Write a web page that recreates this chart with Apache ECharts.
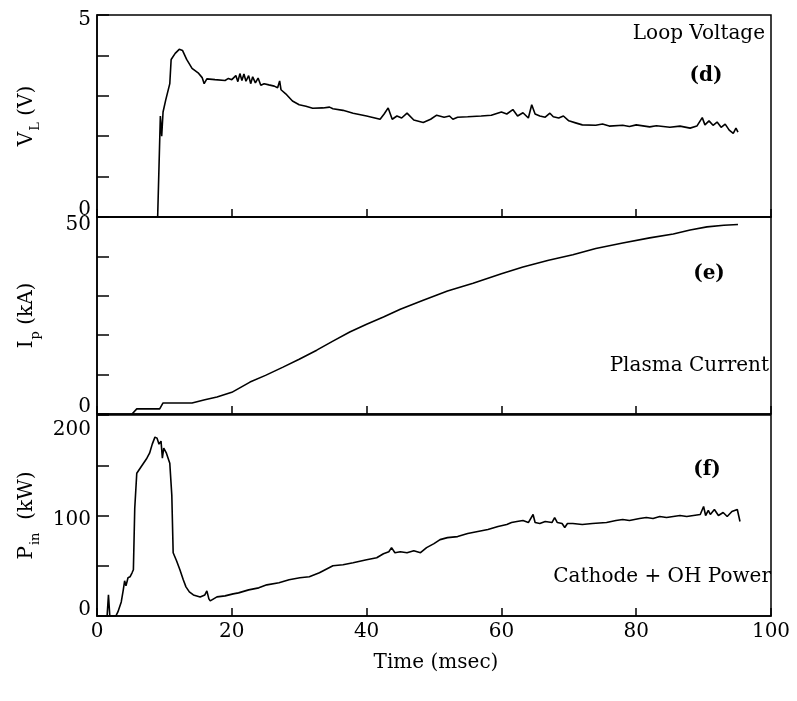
<!DOCTYPE html>
<html>
<head>
<meta charset="utf-8">
<script src="https://cdn.jsdelivr.net/npm/echarts@6/dist/echarts.min.js"></script>
<style>html,body{margin:0;padding:0;background:#fff}#c{width:797px;height:701px}</style>
</head>
<body>
<div id="c"></div>
<script>
// ---- Data ----
// Panel (d) Loop Voltage, V
const vlTime = [9.0,9.4,9.6,9.8,10.2,10.8,11.0,11.6,12.2,12.7,13.3,14.1,15.0,15.6,15.9,16.3,17.5,19.0,19.5,20.0,20.6,20.9,21.2,21.5,21.8,22.1,22.5,22.8,23.1,23.5,23.9,24.3,24.8,25.5,26.3,26.8,27.1,27.3,28.0,29.0,30.0,31.0,32.0,33.5,34.5,35.0,36.5,38.0,40.0,42.0,42.6,43.2,43.8,44.5,45.2,46.0,47.0,48.4,49.5,50.4,51.5,52.3,52.8,53.5,55.0,57.0,58.5,60.0,60.8,61.7,62.4,63.2,64.0,64.5,65.0,65.7,66.5,67.2,67.7,68.5,69.2,70.0,71.0,72.0,74.0,75.0,76.0,78.0,79.0,80.0,82.0,83.0,85.0,86.5,88.0,89.0,89.8,90.2,90.8,91.4,92.0,92.6,93.2,93.8,94.4,94.8,95.1];
const vlValues = [0,2.5,2.0,2.6,2.9,3.3,3.9,4.05,4.15,4.12,3.9,3.68,3.57,3.45,3.3,3.42,3.4,3.38,3.43,3.4,3.5,3.35,3.55,3.38,3.54,3.36,3.5,3.3,3.47,3.32,3.44,3.26,3.3,3.27,3.24,3.2,3.37,3.15,3.05,2.87,2.78,2.74,2.69,2.7,2.72,2.68,2.64,2.57,2.5,2.42,2.55,2.7,2.42,2.5,2.45,2.57,2.4,2.34,2.42,2.52,2.47,2.5,2.42,2.47,2.48,2.5,2.52,2.6,2.55,2.66,2.5,2.58,2.45,2.78,2.55,2.5,2.47,2.57,2.48,2.45,2.5,2.38,2.33,2.28,2.27,2.3,2.25,2.27,2.24,2.28,2.23,2.26,2.22,2.25,2.2,2.25,2.46,2.28,2.38,2.27,2.35,2.22,2.3,2.15,2.07,2.2,2.1];

// Panel (e) Plasma Current, kA
const ipTime = [5.2,5.9,9.3,9.8,14.1,16.0,17.8,20.0,22.7,25.0,27.6,30.0,32.6,35.0,37.5,40.0,42.5,45.0,48.4,52.0,55.8,60.0,63.2,67.0,70.6,74.0,78.0,82.0,85.5,88.0,90.5,93.0,95.1];
const ipValues = [0,1.3,1.3,2.8,2.8,3.6,4.3,5.5,8.1,9.8,11.9,13.9,16.2,18.5,20.8,22.8,24.6,26.6,28.9,31.2,33.2,35.6,37.3,39.0,40.4,42.0,43.4,44.7,45.7,46.7,47.5,47.9,48.1];

// Panel (f) Cathode + OH Power, kW
const pinTime = [1.5,1.7,1.9,2.8,3.1,3.6,3.9,4.1,4.3,4.6,4.9,5.2,5.4,5.6,5.9,6.4,6.9,7.4,7.8,8.2,8.6,8.9,9.2,9.5,9.7,9.9,10.3,10.8,11.1,11.3,11.8,12.3,12.8,13.2,13.7,14.3,15.3,16.0,16.3,16.6,16.8,17.8,19.0,20.2,21.0,22.5,24.0,25.2,27.0,28.5,30.1,31.5,33.0,35.0,36.5,38.0,40.0,41.5,42.5,43.3,43.7,44.2,45.0,46.0,47.0,48.0,48.9,50.0,50.9,52.0,53.5,55.0,56.5,58.0,59.5,60.8,61.5,62.3,63.2,64.0,64.7,65.0,65.7,66.5,67.5,67.9,68.3,69.0,69.4,69.8,70.6,72.0,73.5,75.6,77.0,78.0,79.0,80.5,81.5,82.5,83.5,84.5,85.5,86.5,87.5,88.5,89.5,90.0,90.3,90.7,91.0,91.6,92.2,92.9,93.5,94.2,95.0,95.4];
const pinValues = [0,21,0,0,4,14,26,35,30,38,39,43,46,107,142,147,152,157,162,171,178,177,171,174,157,167,162,152,120,63,55,46,36,29,24,21,19,21,25,17,15,19,20,22,23,26,28,31,33,36,38,39,43,50,51,53,56,58,62,64,68,63,64,63,65,63,68,72,76,78,79,82,84,86,89,91,93,94,95,93,101,93,92,94,93,98,93,92,88,92,92,91,92,93,95,96,95,97,98,97,99,98,99,100,99,100,101,109,100,105,101,106,100,103,99,104,106,94];

const xTicks = [0,20,40,60,80,100];
const vlTickLabels = [0,5];
const ipTickLabels = [0,50];
const pinTickLabels = [0,100,200];

// ---- Chart ----
const FONT = 'DejaVu Serif';
const pair = (t, v) => t.map((x, i) => [x, v[i]]);
const grids = [
  {left: 97, width: 674, top: 15, height: 202},
  {left: 97, width: 674, top: 217, height: 197},
  {left: 97, width: 674, top: 415, height: 201}
].map(g => Object.assign(g, {show: true, borderColor: '#000', borderWidth: 1.5, backgroundColor: 'transparent'}));

function xAxis(i, showLabels) {
  return {
    type: 'value', gridIndex: i, min: 0, max: 100, interval: 20,
    axisLine: {show: true, lineStyle: {color: '#000', width: 1.5}},
    axisTick: {show: true, inside: true, length: 8, lineStyle: {color: '#000', width: 1.5}},
    splitLine: {show: false},
    axisLabel: {show: showLabels, color: '#000', fontFamily: FONT, fontSize: 20, margin: 6,
      formatter: v => xTicks.includes(v) ? String(v) : ''}
  };
}
function yAxis(i, max, interval, labels, nameRich, rich, padTop, padBottom) {
  return {
    type: 'value', gridIndex: i, min: 0, max: max, interval: interval,
    axisLine: {show: true, lineStyle: {color: '#000', width: 1.5}},
    axisTick: {show: true, inside: true, length: 12, lineStyle: {color: '#000', width: 1.5}},
    splitLine: {show: false},
    axisLabel: {show: true, color: '#000', fontFamily: FONT, fontSize: 20, margin: 6,
      formatter: v => {
        if (!labels.includes(v)) return '';
        if (v === 0) return '{lo|' + v + '}';
        if (v === max) return '{hi|' + v + '}';
        return '{md|' + v + '}';
      },
      rich: {
        lo: {fontFamily: FONT, fontSize: 20, color: '#000', padding: [0, 0, padBottom, 0]},
        hi: {fontFamily: FONT, fontSize: 20, color: '#000', padding: [padTop, 0, 0, 0]},
        md: {fontFamily: FONT, fontSize: 20, color: '#000', padding: [8, 0, 0, 0]}
      }
    },
    name: nameRich, nameLocation: 'middle', nameRotate: 90, nameGap: 58,
    nameTextStyle: {rich: rich}
  };
}
const nameRich = {
  m: {fontFamily: FONT, fontSize: 20, color: '#000', verticalAlign: 'top', lineHeight: 22},
  s: {fontFamily: FONT, fontSize: 13, color: '#000', verticalAlign: 'top', lineHeight: 13, padding: [12, 0, 0, 1]}
};

const lineSeries = (i, data) => ({
  type: 'line', xAxisIndex: i, yAxisIndex: i, data: data, showSymbol: false, symbol: 'none',
  lineStyle: {color: '#000', width: 1.6}, animation: false
});

const txt = (x, y, text, align, bold) => ({
  type: 'text', x: x, y: y,
  style: {text: text, fill: '#000', font: (bold ? 'bold ' : '') + '20px "' + FONT + '"', align: align, verticalAlign: 'middle'}
});

const chart = echarts.init(document.getElementById('c'), null, {renderer: 'canvas'});
chart.setOption({
  backgroundColor: '#fff',
  animation: false,
  grid: grids,
  xAxis: [xAxis(0, false), xAxis(1, false), xAxis(2, true)],
  yAxis: [
    yAxis(0, 5, 1, vlTickLabels, '{m|V}{s|L}{m| (V)}', nameRich, 10, 14),
    yAxis(1, 50, 10, ipTickLabels, '{m|I}{s|p}{m| (kA)}', nameRich, 16, 14),
    yAxis(2, 200, 50, pinTickLabels, '{m|P}{s|in}{m|  (kW)}', nameRich, 30, 12)
  ],
  series: [
    lineSeries(0, pair(vlTime, vlValues)),
    lineSeries(1, pair(ipTime, ipValues)),
    lineSeries(2, pair(pinTime, pinValues))
  ],
  graphic: [
    txt(765, 34, 'Loop Voltage', 'right', false),
    txt(706, 76, '(d)', 'center', true),
    txt(709, 274, '(e)', 'center', true),
    txt(769, 366, 'Plasma Current', 'right', false),
    txt(707, 470, '(f)', 'center', true),
    txt(771, 577, 'Cathode + OH Power', 'right', false),
    txt(436, 663, 'Time (msec)', 'center', false)
  ]
});
</script>
</body>
</html>
